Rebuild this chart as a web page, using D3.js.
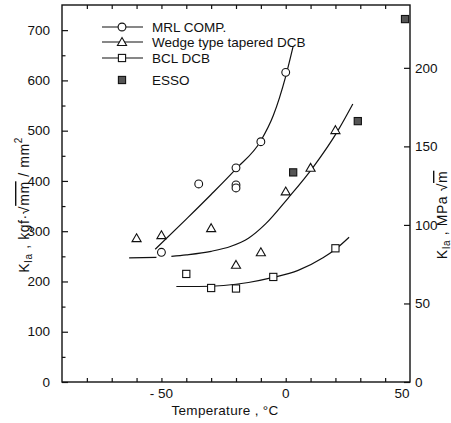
<!DOCTYPE html>
<html><head><meta charset="utf-8">
<script src="https://cdn.jsdelivr.net/npm/d3@7"></script>
<style>body{margin:0;background:#fff}svg{display:block}text{font-family:"Liberation Sans",Arial,sans-serif;fill:#111}</style>
</head><body><svg id="c" width="451" height="423"></svg>
<script>
// ---- data (temperature °C, K_Ia in kgf·√mm/mm²) ----
const mrlT = [-50, -35, -20, -20, -20, -10, 0];
const mrlK = [258, 394, 426, 392, 386, 478, 616];
const wedgeT = [-60, -50, -30, -20, -10, 0, 10, 20];
const wedgeK = [286, 292, 306, 233, 258, 379, 426, 501];
const bclT = [-40, -30, -20, -5, 20];
const bclK = [215, 187, 186, 209, 266];
const essoT = [3, 29, 48];
const essoK = [417, 519, 722];
// fitted curves as drawn
const mrlCurveT = [-52.5, -40, -30, -20, -10, -5, 0, 3];
const mrlCurveK = [264, 324, 373, 424, 480, 530, 608, 668];
const wedgeFlatT = [-63, -52];
const wedgeFlatK = [247, 248];
const wedgeCurveT = [-46, -40, -30, -22, -15, -8, 1, 11, 21, 27];
const wedgeCurveK = [250, 253, 260, 270, 286, 315, 366, 427, 500, 553];
const bclCurveT = [-44, -35, -25, -15, -5, 5, 15, 20, 25.5];
const bclCurveK = [190, 190, 192, 198, 208, 222, 247, 264, 288];
// axes
const xTicks = [-80, -70, -60, -50, -40, -30, -20, -10, 0, 10, 20, 30, 40];
const xLabels = [-50, 0, 50];
const yLeftMajor = [0, 100, 200, 300, 400, 500, 600, 700];
const yLeftMinor = [50, 150, 250, 350, 450, 550, 650];
const yRightMajor = [0, 50, 100, 150, 200];
const legendNames = ["MRL COMP.", "Wedge type tapered DCB", "BCL DCB", "ESSO"];

const svg = d3.select("#c");
const L = 62, R = 410, T = 5, B = 382;
const x = d3.scaleLinear().domain([-90, 50]).range([L, R]);
const y = d3.scaleLinear().domain([0, 750]).range([B, T]);
const yr = d3.scaleLinear().domain([0, 240]).range([B, T]);

// frame
svg.append("rect").attr("x", L).attr("y", T).attr("width", R - L).attr("height", B - T)
  .attr("fill", "none").attr("stroke", "#111").attr("stroke-width", 1.4);

const g = svg.append("g");
g.append("g").attr("transform", `translate(0,${B})`)
  .call(d3.axisBottom(x).tickValues(xTicks).tickSize(-4).tickFormat(""));
g.append("g").attr("transform", `translate(0,${T})`)
  .call(d3.axisTop(x).tickValues(xTicks).tickSize(-4).tickFormat(""));
g.append("g").attr("transform", `translate(${L},0)`)
  .call(d3.axisLeft(y).tickValues(yLeftMajor).tickSize(-6).tickFormat(""));
g.append("g").attr("transform", `translate(${L},0)`)
  .call(d3.axisLeft(y).tickValues(yLeftMinor).tickSize(-3.5).tickFormat(""));
g.append("g").attr("transform", `translate(${R},0)`)
  .call(d3.axisRight(yr).tickValues(yRightMajor).tickSize(-6).tickFormat(""));
g.selectAll(".domain").remove();
g.selectAll(".tick line").attr("stroke", "#111").attr("stroke-width", 1.2);

// tick labels
svg.append("g").selectAll("text").data(xLabels).join("text")
  .attr("x", d => d === 50 ? x(d) - 8 : x(d)).attr("y", 398)
  .attr("text-anchor", "middle").attr("font-size", 13.5)
  .text(d => d < 0 ? "- " + Math.abs(d) : d);
svg.append("g").selectAll("text").data(yLeftMajor).join("text")
  .attr("x", 50).attr("y", d => y(d) + 4.7).attr("text-anchor", "end").attr("font-size", 13.5)
  .text(d => d);
svg.append("g").selectAll("text").data(yRightMajor).join("text")
  .attr("x", 415).attr("y", d => yr(d) + 4.7).attr("text-anchor", "start").attr("font-size", 13.5)
  .text(d => d);

// axis titles
svg.append("text").attr("x", 225).attr("y", 415).attr("text-anchor", "middle").attr("font-size", 13.5)
  .attr("letter-spacing", 0.3).text("Temperature ,  °C");
const lt = svg.append("text").attr("transform", "translate(29,205) rotate(-90)")
  .attr("text-anchor", "middle").attr("font-size", 14).attr("letter-spacing", 0.6);
lt.append("tspan").text("K");
lt.append("tspan").attr("font-size", 10).attr("dy", 3).text("Ia");
lt.append("tspan").attr("dy", -3).text(" ,   kgf·√");
lt.append("tspan").style("text-decoration", "overline").text("mm");
lt.append("tspan").text(" / mm");
lt.append("tspan").attr("font-size", 10).attr("dy", -7).text("2");
const rt = svg.append("text").attr("transform", "translate(447,215) rotate(-90)")
  .attr("text-anchor", "middle").attr("font-size", 14).attr("letter-spacing", 0.6);
rt.append("tspan").text("K");
rt.append("tspan").attr("font-size", 10).attr("dy", 3).text("Ia");
rt.append("tspan").attr("dy", -3).text(" ,   MPa √");
rt.append("tspan").style("text-decoration", "overline").text("m");

// curves
const line = d3.line().x(d => x(d[0])).y(d => y(d[1])).curve(d3.curveMonotoneX);
const curves = [
  d3.zip(mrlCurveT, mrlCurveK), d3.zip(wedgeFlatT, wedgeFlatK),
  d3.zip(wedgeCurveT, wedgeCurveK), d3.zip(bclCurveT, bclCurveK)
];
svg.append("g").selectAll("path").data(curves).join("path")
  .attr("d", line).attr("fill", "none").attr("stroke", "#111").attr("stroke-width", 1.2);

// markers
const tri = d3.symbol().type(d3.symbolTriangle).size(36);
function circles(sel, data) {
  sel.selectAll("circle").data(data).join("circle")
    .attr("cx", d => x(d[0])).attr("cy", d => y(d[1])).attr("r", 3.9)
    .attr("fill", "#fff").attr("stroke", "#111").attr("stroke-width", 1.1);
}
function triangles(sel, data) {
  sel.selectAll("path").data(data).join("path")
    .attr("d", tri).attr("transform", d => `translate(${x(d[0])},${y(d[1]) + 0.8})`)
    .attr("fill", "#fff").attr("stroke", "#111").attr("stroke-width", 1.1);
}
function squares(sel, data, fill) {
  sel.selectAll("rect").data(data).join("rect")
    .attr("x", d => x(d[0]) - 3.6).attr("y", d => y(d[1]) - 3.6).attr("width", 7.2).attr("height", 7.2)
    .attr("fill", fill).attr("stroke", "#111").attr("stroke-width", 1.1);
}
circles(svg.append("g"), d3.zip(mrlT, mrlK));
triangles(svg.append("g"), d3.zip(wedgeT, wedgeK));
squares(svg.append("g"), d3.zip(bclT, bclK), "#fff");
squares(svg.append("g"), d3.zip(essoT, essoK), "#555");

// legend
const legY = [27, 42, 58, 80];
const lg = svg.append("g");
legendNames.forEach((name, i) => {
  const yy = legY[i];
  if (i < 3) {
    lg.append("line").attr("x1", 102).attr("x2", 143).attr("y1", yy).attr("y2", yy)
      .attr("stroke", "#111").attr("stroke-width", 1.1);
  }
  const mk = lg.append("g");
  if (i === 0) mk.append("circle").attr("cx", 122).attr("cy", yy).attr("r", 3.9)
    .attr("fill", "#fff").attr("stroke", "#111").attr("stroke-width", 1.1);
  if (i === 1) mk.append("path").attr("d", tri).attr("transform", `translate(122,${yy + 0.8})`)
    .attr("fill", "#fff").attr("stroke", "#111").attr("stroke-width", 1.1);
  if (i >= 2) mk.append("rect").attr("x", 118.4).attr("y", yy - 3.6).attr("width", 7.2).attr("height", 7.2)
    .attr("fill", i === 2 ? "#fff" : "#555").attr("stroke", "#111").attr("stroke-width", 1.1);
  lg.append("text").attr("x", 152).attr("y", yy + 4.7).attr("font-size", 13.5).text(name);
});
</script></body></html>
